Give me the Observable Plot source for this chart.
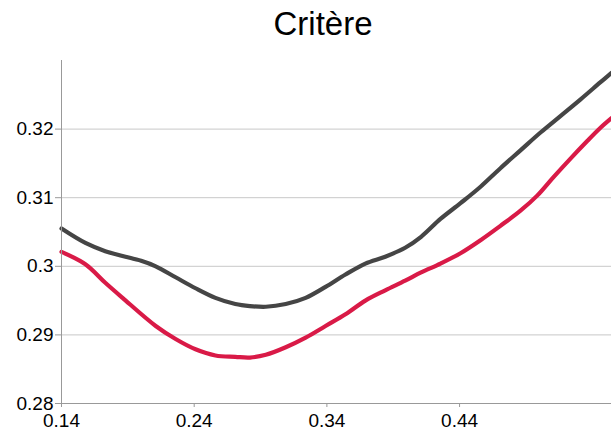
<!DOCTYPE html>
<html>
<head>
<meta charset="utf-8">
<script src="https://cdn.jsdelivr.net/npm/d3@7"></script>
<script src="https://cdn.jsdelivr.net/npm/@observablehq/plot@0.6"></script>
<style>
  html, body { margin: 0; padding: 0; background: #fff; }
  body { width: 611px; height: 434px; overflow: hidden; font-family: "Liberation Sans", Arial, sans-serif; }
  #title { height: 50px; line-height: 47px; font-size: 33px; color: #000; text-align: center; padding-left: 35px; box-sizing: border-box; width: 611px; }
  svg { display: block; }
</style>
</head>
<body>
<div id="title">Critère</div>
<div id="chart"></div>
<script>
const xGray = [0.140, 0.158, 0.173, 0.186, 0.200, 0.211, 0.226, 0.241, 0.256, 0.271, 0.282, 0.294, 0.309, 0.324, 0.339, 0.354, 0.369, 0.384, 0.399, 0.411, 0.4256, 0.4407, 0.4558, 0.4708, 0.4859, 0.501, 0.516, 0.531, 0.546, 0.5545];
const yGray = [0.3055, 0.3034, 0.3022, 0.3015, 0.3008, 0.3000, 0.2984, 0.2968, 0.2954, 0.2945, 0.2942, 0.2941, 0.2945, 0.2954, 0.2970, 0.2988, 0.3004, 0.3014, 0.3027, 0.3043, 0.3069, 0.3092, 0.3116, 0.3143, 0.3169, 0.3195, 0.3219, 0.3243, 0.3268, 0.3282];
const xRed = [0.140, 0.158, 0.173, 0.186, 0.211, 0.226, 0.241, 0.256, 0.271, 0.282, 0.294, 0.309, 0.324, 0.339, 0.354, 0.369, 0.384, 0.399, 0.411, 0.4256, 0.4407, 0.4558, 0.4708, 0.4859, 0.4985, 0.5108, 0.5236, 0.5364, 0.5462, 0.5545];
const yRed = [0.3021, 0.3003, 0.2976, 0.2954, 0.2913, 0.2894, 0.2879, 0.2870, 0.2868, 0.2867, 0.2871, 0.2882, 0.2896, 0.2913, 0.2930, 0.2950, 0.2965, 0.2979, 0.2991, 0.3004, 0.3019, 0.3038, 0.3059, 0.3081, 0.3103, 0.3130, 0.3157, 0.3183, 0.3202, 0.3216];
const xTicks = [0.14, 0.24, 0.34, 0.44];
const yTicks = [0.28, 0.29, 0.30, 0.31, 0.32];
const yGrid = [0.29, 0.30, 0.31, 0.32];

const gray = xGray.map((x, i) => ({x, y: yGray[i]}));
const red = xRed.map((x, i) => ({x, y: yRed[i]}));
const fmt = d => String(+d.toFixed(2));

const chart = Plot.plot({
  width: 611,
  height: 384,
  marginLeft: 61,
  marginRight: 0,
  marginTop: 10,
  marginBottom: 31,
  style: { fontFamily: "Liberation Sans, Arial, sans-serif", fontSize: "19px", color: "#000", background: "#fff" },
  x: { domain: [0.14, 0.5545], ticks: xTicks, tickFormat: fmt, label: null },
  y: { domain: [0.28, 0.33], ticks: yTicks, tickFormat: fmt, label: null },
  marks: [
    Plot.ruleY(yGrid, { stroke: "#c8c8c8", strokeWidth: 1 }),
    Plot.line(gray, { x: "x", y: "y", stroke: "#454545", strokeWidth: 4.2, curve: "catmull-rom" }),
    Plot.line(red, { x: "x", y: "y", stroke: "#d91a47", strokeWidth: 4.2, curve: "catmull-rom" }),
    Plot.axisX({ ticks: xTicks, tickSize: 4, tickPadding: 6, stroke: "#999", fill: "#000", tickFormat: fmt, label: null }),
    Plot.axisY({ ticks: yTicks, tickSize: 6, tickPadding: 2, stroke: "#999", fill: "#000", tickFormat: fmt, label: null }),
    Plot.ruleX([0.14], { stroke: "#999", strokeWidth: 1 }),
    Plot.ruleY([0.28], { stroke: "#999", strokeWidth: 1 })
  ]
});
document.getElementById("chart").appendChild(chart);
</script>
</body>
</html>
